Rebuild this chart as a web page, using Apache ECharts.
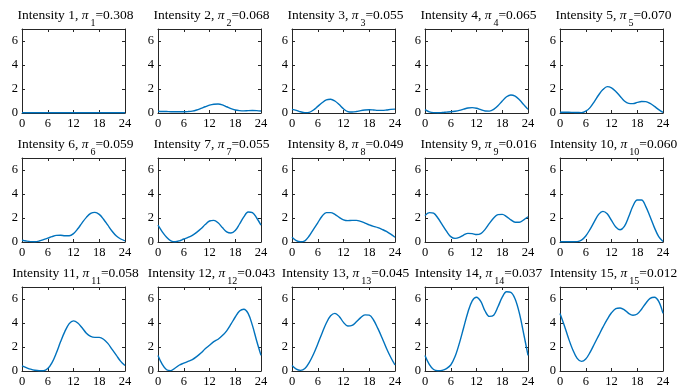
<!DOCTYPE html>
<html>
<head>
<meta charset="utf-8">
<script src="https://cdn.jsdelivr.net/npm/echarts@6/dist/echarts.min.js"></script>
<style>
html,body{margin:0;padding:0;background:#fff;}
#chart{width:690px;height:392px;}
</style>
</head>
<body>
<div id="chart"></div>
<script>
// Hour of day (x values shared by all intensities)
const hours = [0,1,2,3,4,5,6,7,8,9,10,11,12,13,14,15,16,17,18,19,20,21,22,23,24];
// Mixture weights pi_k
const piValues = ['0.308','0.068','0.055','0.065','0.070','0.059','0.055','0.049','0.016','0.060','0.058','0.043','0.045','0.037','0.012'];
// X tick labels / Y tick labels
const xTicks = [0,6,12,18,24];
const yTicks = [0,2,4,6];

// Intensity curves, value at each hour
const intensity1  = [0.02,0.02,0.02,0.02,0.02,0.02,0.02,0.02,0.02,0.02,0.02,0.02,0.02,0.02,0.02,0.02,0.02,0.02,0.02,0.02,0.02,0.02,0.02,0.02,0.02];
const intensity2  = [0.15,0.13,0.12,0.1,0.1,0.1,0.1,0.12,0.16,0.25,0.38,0.52,0.65,0.73,0.75,0.68,0.52,0.36,0.25,0.2,0.18,0.2,0.21,0.2,0.17];
const intensity3  = [0.3,0.22,0.1,0.03,0.05,0.25,0.55,0.85,1.1,1.15,1.0,0.7,0.35,0.12,0.08,0.12,0.2,0.25,0.27,0.25,0.22,0.22,0.25,0.3,0.32];
const intensity4  = [0.28,0.1,0.03,0.02,0.04,0.07,0.1,0.15,0.22,0.32,0.42,0.45,0.4,0.28,0.17,0.16,0.3,0.6,1.0,1.35,1.5,1.4,1.1,0.7,0.3];
const intensity5  = [0.06,0.06,0.06,0.05,0.04,0.03,0.15,0.45,0.95,1.5,1.95,2.2,2.1,1.8,1.4,1.0,0.8,0.78,0.88,0.96,0.95,0.8,0.55,0.28,0.05];
const intensity6  = [0.15,0.08,0.03,0.02,0.08,0.2,0.32,0.45,0.55,0.56,0.52,0.52,0.7,1.1,1.6,2.05,2.38,2.47,2.3,1.9,1.4,0.9,0.5,0.25,0.1];
const intensity7  = [1.4,0.85,0.4,0.1,0.02,0.1,0.25,0.38,0.55,0.8,1.1,1.45,1.75,1.8,1.6,1.2,0.85,0.75,0.95,1.5,2.1,2.5,2.45,2.0,1.4];
const intensity8  = [0.4,0.12,0.02,0.1,0.5,1.05,1.6,2.15,2.45,2.45,2.3,2.05,1.85,1.78,1.8,1.8,1.72,1.58,1.42,1.3,1.2,1.05,0.88,0.65,0.4];
const intensity9  = [2.2,2.45,2.4,2.0,1.45,0.9,0.45,0.3,0.38,0.58,0.72,0.7,0.62,0.7,1.05,1.55,2.0,2.28,2.3,2.12,1.85,1.65,1.65,1.85,2.1];
const intensity10 = [0.02,0.02,0.02,0.02,0.03,0.15,0.5,1.05,1.7,2.3,2.55,2.35,1.8,1.25,1.02,1.3,2.1,3.0,3.5,3.5,2.95,2.1,1.2,0.45,0.05];
const intensity11 = [0.42,0.28,0.15,0.06,0.02,0.02,0.2,0.7,1.5,2.45,3.3,3.95,4.18,4.0,3.6,3.15,2.88,2.8,2.8,2.65,2.3,1.8,1.3,0.8,0.45];
const intensity12 = [1.3,0.55,0.1,0.03,0.25,0.5,0.65,0.8,0.95,1.2,1.5,1.85,2.15,2.45,2.65,2.95,3.35,3.9,4.5,5.0,5.15,4.8,3.8,2.5,1.3];
const intensity13 = [0.45,0.15,0.05,0.2,0.7,1.4,2.25,3.15,4.0,4.6,4.8,4.55,4.05,3.75,3.8,4.1,4.45,4.68,4.65,4.25,3.55,2.75,1.9,1.15,0.5];
const intensity14 = [1.3,0.55,0.12,0.02,0.05,0.2,0.5,1.2,2.3,3.6,4.9,5.85,6.15,5.8,5.0,4.55,4.65,5.35,6.15,6.6,6.55,6.0,4.8,3.1,1.3];
const intensity15 = [4.8,3.8,2.7,1.75,1.05,0.8,1.0,1.55,2.25,2.95,3.65,4.3,4.85,5.2,5.25,5.1,4.8,4.65,4.75,5.15,5.65,6.05,6.15,5.8,4.8];

const curves = [intensity1,intensity2,intensity3,intensity4,intensity5,intensity6,intensity7,intensity8,
                intensity9,intensity10,intensity11,intensity12,intensity13,intensity14,intensity15];

const FONT = '"Liberation Serif","Times New Roman",serif';
const AX = '#262626';
const colLeft = [22, 158, 292, 425, 560];
const rowTop = [29, 158, 287];
const W = 103, H = 84;

const grids = [], xAxes = [], yAxes = [], series = [], graphics = [];
curves.forEach((vals, i) => {
  const r = Math.floor(i / 5), c = i % 5;
  const left = colLeft[c], top = rowTop[r];
  grids.push({left: left, top: top, width: W, height: H, containLabel: false});
  const xBase = {
    gridIndex: i, type: 'value', min: xTicks[0], max: xTicks[xTicks.length-1], interval: 6,
    axisLine: {show: true, onZero: false, lineStyle: {color: AX, width: 1}},
    axisTick: {show: true, inside: true, length: 3, lineStyle: {color: AX}},
    splitLine: {show: false}
  };
  xAxes.push(Object.assign({}, xBase, {position: 'bottom',
    axisLabel: {show: true, color: '#000', fontFamily: FONT, fontSize: 12.5, margin: 4}}));
  xAxes.push(Object.assign({}, xBase, {position: 'top', axisLabel: {show: false}}));
  const yBase = {
    gridIndex: i, type: 'value', min: 0, max: 7, interval: 2,
    axisLine: {show: true, onZero: false, lineStyle: {color: AX, width: 1}},
    axisTick: {show: true, inside: true, length: 3, lineStyle: {color: AX}},
    splitLine: {show: false}
  };
  yAxes.push(Object.assign({}, yBase, {position: 'left',
    axisLabel: {show: true, color: '#000', fontFamily: FONT, fontSize: 12.5, margin: 4, showMaxLabel: false,
      formatter: v => (yTicks.indexOf(v) >= 0 ? String(v) : '')}}));
  yAxes.push(Object.assign({}, yBase, {position: 'right', axisLabel: {show: false}}));
  series.push({
    type: 'line', xAxisIndex: 2*i, yAxisIndex: 2*i,
    data: hours.map((h, j) => [h, vals[j]]),
    smooth: 0.35, showSymbol: false, symbol: 'none', clip: true,
    lineStyle: {color: '#0072BD', width: 1.4}
  });
  const k = i + 1;
  graphics.push({
    type: 'text', x: left + W/2 + 2, y: top - 21, silent: true,
    style: {
      text: '{a|Intensity ' + k + ', }{p|π}{s|' + k + '}{a|=' + piValues[i] + '}',
      align: 'center', verticalAlign: 'top',
      rich: {
        a: {fontFamily: FONT, fontSize: 13.5, lineHeight: 15, verticalAlign: 'top', fill: '#000', color: '#000'},
        p: {fontFamily: FONT, fontSize: 13.5, fontStyle: 'italic', lineHeight: 15, verticalAlign: 'top', fill: '#000', color: '#000', padding: [0, 2, 0, 0]},
        s: {fontFamily: FONT, fontSize: 10, lineHeight: 11, verticalAlign: 'top', padding: [10.5, 0, 0, 0], fill: '#000', color: '#000'}
      }
    }
  });
});

const chart = echarts.init(document.getElementById('chart'), null, {renderer: 'canvas'});
chart.setOption({
  animation: false,
  backgroundColor: '#fff',
  grid: grids, xAxis: xAxes, yAxis: yAxes, series: series,
  graphic: graphics
});
</script>
</body>
</html>
